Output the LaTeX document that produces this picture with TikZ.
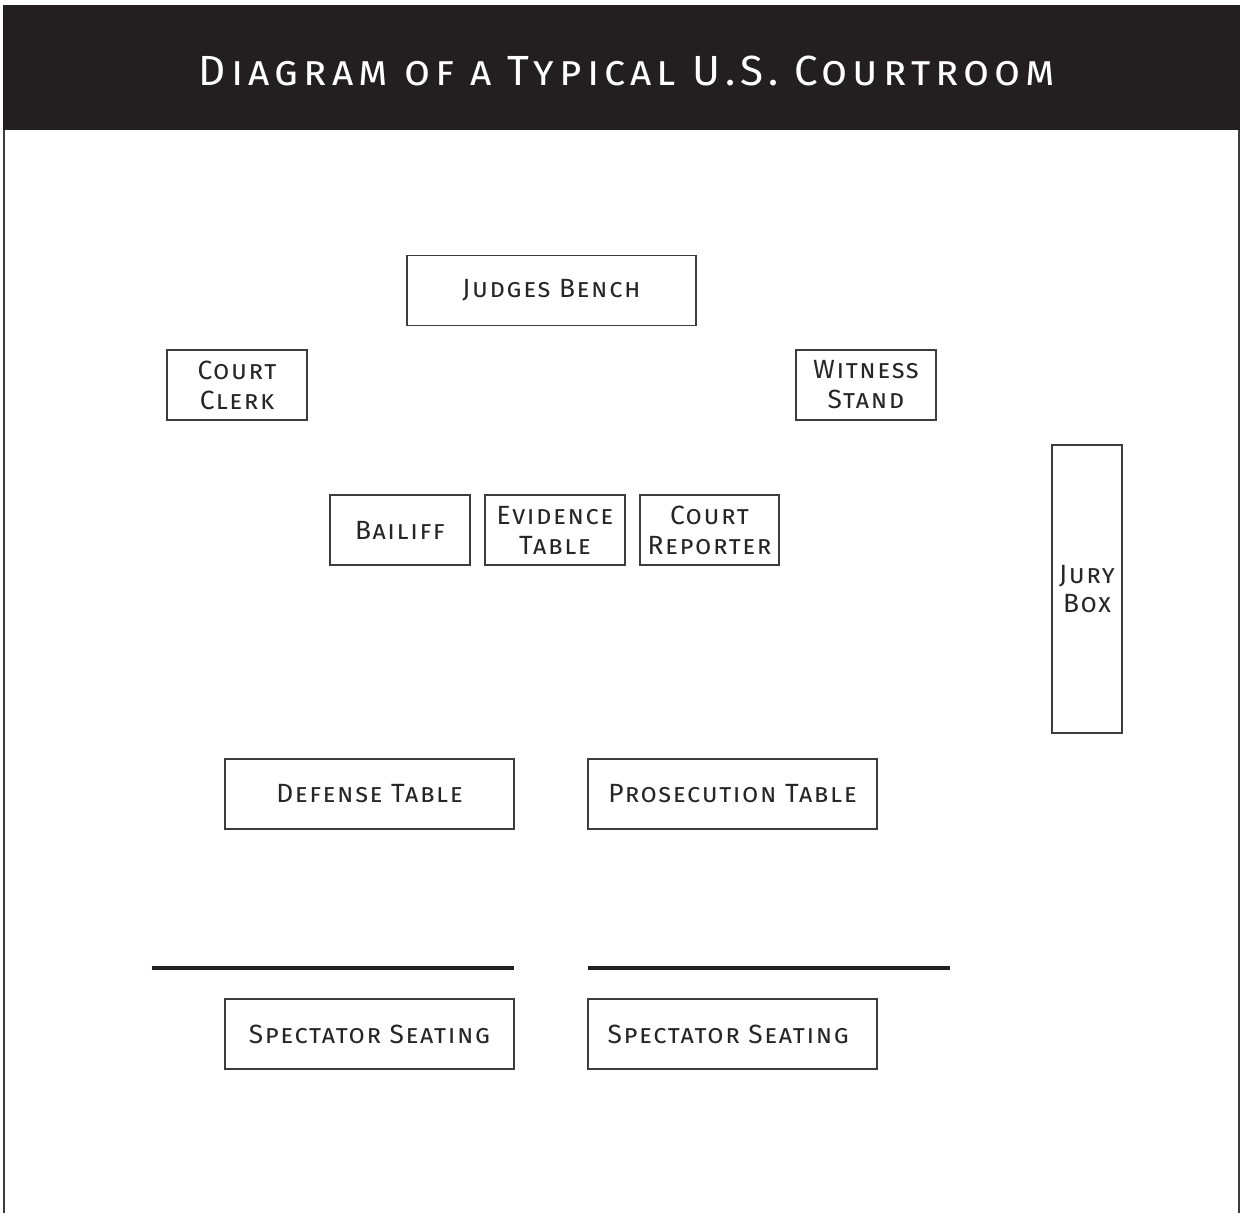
\documentclass[tikz,border=0pt]{standalone}
\usepackage{fontspec}
\setmainfont{Fira Sans}[Letters=SmallCaps,LetterSpace=12]
\usepackage{tikz}
\usetikzlibrary{positioning}
\definecolor{noirtitre}{RGB}{35,31,32}
\definecolor{traitgris}{RGB}{60,60,60}

\begin{document}
\begin{tikzpicture}[x=0.02cm, y=-0.02cm,
  roombox/.style={draw=traitgris, line width=0.8pt, fill=white, inner sep=0pt,
    align=center, font=\fontsize{15}{17}\selectfont\addfontfeature{LetterSpace=6}, text=black!85},
  railing/.style={line width=2.6pt, draw=noirtitre}]
\useasboundingbox (0,0) rectangle (1243,1213);

% header band and walls
\fill[noirtitre] (3,5) rectangle (1240,130);
\draw[traitgris, line width=1.1pt] (4,130) -- (4,1213);
\draw[traitgris, line width=1.1pt] (1239,130) -- (1239,1213);
\node[text=white, font=\fontsize{24}{28}\selectfont] (titre) at (627,71) {Diagram of a Typical U.S. Courtroom};

% furniture
\foreach \n/\x/\y/\w/\h/\label in {
  judge/551.5/290.5/289/70/{Judges Bench},
  clerk/237/385/140/70/{Court\\Clerk},
  witness/866/385/140/70/{Witness\\Stand},
  bailiff/400/530/140/70/{Bailiff},
  evidence/555/530/140/70/{Evidence\\Table},
  reporter/709.5/530/139/70/{Court\\Reporter},
  jury/1087/589/70/288/{Jury\\Box},
  defense/369.5/794/289/70/{Defense Table},
  prosecution/732.5/794/289/70/{Prosecution Table},
  seatsL/369.5/1034/289/70/{Spectator Seating},
  seatsR/732.5/1034/289/70/{Spectator Seating}
} {
  \node[roombox, minimum width=\w*0.02cm, minimum height=\h*0.02cm] (\n) at (\x,\y) {\label};
}

% bar between well and gallery
\draw[railing] (152,968) -- (514,968);
\draw[railing] (588,968) -- (950,968);
\end{tikzpicture}
\end{document}
